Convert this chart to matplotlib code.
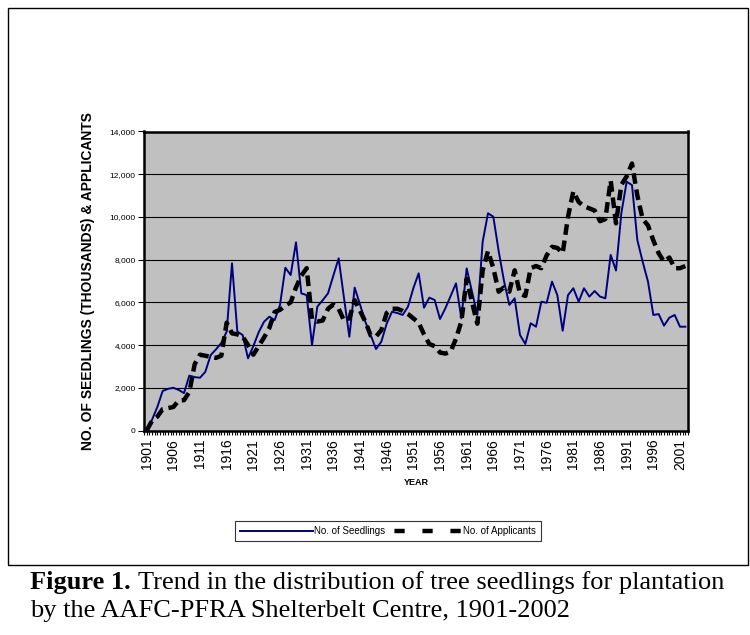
import numpy as np
import matplotlib
matplotlib.use('Agg')
from matplotlib import pyplot as plt
from matplotlib.patches import Rectangle
from matplotlib.lines import Line2D

years = list(range(1901, 2003))

seedlings = [
    0, 500, 1100, 1850, 1950, 2000, 1900, 1750, 2570, 2500,
    2470, 2750, 3530, 3800, 4100, 4630, 7830, 4630, 4470, 3380,
    3950, 4600, 5090, 5330, 5170, 5880, 7620, 7280, 8810, 6420,
    6340, 4000, 5800, 6100, 6420, 7250, 8060, 6200, 4390, 6690,
    5900, 5090, 4470, 3815, 4160, 5000, 5560, 5500, 5410, 5800,
    6660, 7360, 5750, 6220, 6110, 5220, 5720, 6300, 6890, 5250,
    7590, 6500, 5410, 8840, 10170, 10010, 8400, 7000, 5880, 6190,
    4470, 4050, 5020, 4860, 6030, 5980, 6970, 6340, 4670, 6340,
    6660, 6030, 6660, 6270, 6530, 6270, 6190, 8220, 7490, 10170,
    11650, 11490, 8920, 7900, 6970, 5410, 5450, 4910, 5280, 5410,
    4860, 4860,
]

applicants = [
    0, 450, 650, 1000, 1050, 1100, 1400, 1420, 1800, 3100,
    3550, 3500, 3450, 3400, 3500, 5050, 4550, 4500, 4400, 4000,
    3550, 3950, 4350, 4800, 5550, 5650, 5850, 6000, 6700, 7250,
    7600, 5200, 5100, 5150, 5700, 5900, 5700, 5150, 5250, 6100,
    5600, 5100, 4450, 4400, 4700, 5500, 5700, 5700, 5600, 5450,
    5250, 5050, 4500, 4050, 3950, 3650, 3600, 3700, 4300, 5100,
    7100, 6000, 5000, 7500, 8400, 7600, 6500, 6700, 6500, 7500,
    6400, 6300, 7600, 7700, 7600, 8200, 8600, 8550, 8300, 10000,
    11200, 10700, 10500, 10400, 10300, 9800, 9900, 11700, 9700, 11500,
    11900, 12500, 11000, 9900, 9600, 8900, 8300, 7900, 8100, 7600,
    7600, 7700,
]

year_ticks = list(range(1901, 2002, 5))
y_ticks = list(range(0, 14001, 2000))

NAVY = '#000080'
SILVER = '#C0C0C0'

fig = plt.figure(figsize=(7.5, 6.35), dpi=100)

# outer frame around chart
fig.patches.append(Rectangle((8 / 750, 1 - 565 / 635), 740 / 750, 557 / 635,
                             transform=fig.transFigure, fill=False,
                             edgecolor='black', linewidth=1.0))

ax = fig.add_axes([144 / 750, 1 - 430.5 / 635, 544 / 750, 299 / 635])
ax.set_facecolor(SILVER)

ax.plot(years, seedlings, color=NAVY, linewidth=1.4)
ax.plot(years, applicants, color='black', linewidth=3.2, dashes=(2.4, 1.3),
        dash_capstyle='butt')

ax.set_xlim(1900.5, 2002.5)
ax.set_ylim(0, 14000)
ax.set_yticks(y_ticks)
ax.set_yticklabels(['{:,}'.format(v) for v in y_ticks], fontsize=6,
                   family='Liberation Sans')
ax.set_xticks(year_ticks)
ax.set_xticklabels([str(y) for y in year_ticks], rotation=90, fontsize=10,
                   family='Liberation Sans')
ax.set_xticks(np.arange(1900.5, 2002.51, 0.5), minor=True)
ax.tick_params(axis='x', which='both', direction='out', length=3, width=0.8, pad=3)
ax.tick_params(axis='y', direction='out', length=4, width=0.8, pad=2)

ax.grid(axis='y', color='black', linewidth=0.8)
ax.set_axisbelow(True)
for s in ax.spines.values():
    s.set_linewidth(1.8)

ax.set_xlabel('YEAR', fontsize=6.5, fontweight='bold', family='Liberation Sans',
              labelpad=6)
ax.set_ylabel('NO. OF SEEDLINGS (THOUSANDS) & APPLICANTS', fontsize=10,
              fontweight='bold', family='Liberation Sans')
ax.yaxis.set_label_coords(-0.090, 0.5)

# legend handles: the dashed sample shows three separate blocks, as in the source
handles = [
    Line2D([], [], color=NAVY, linewidth=1.4),
    Line2D([], [], color='black', linewidth=3.2, linestyle=(5.3, (2.3, 4.0)),
           dash_capstyle='butt'),
]
leg = fig.legend(handles, ['No. of Seedlings', 'No. of Applicants'],
                 loc='center', bbox_to_anchor=(388 / 750, 1 - 531 / 635), ncol=2,
                 frameon=True, fancybox=False, edgecolor='black',
                 prop={'family': 'Liberation Sans', 'size': 7},
                 handlelength=7.5, handletextpad=0.1, columnspacing=0.5,
                 borderpad=0.5)
leg.get_frame().set_linewidth(0.8)

# caption: bold "Figure 1." followed by the plain text on the same line
CAP_SIZE = 19
t1 = fig.text(30 / 750, 1 - 583 / 635, 'Figure 1.', fontsize=CAP_SIZE,
              fontweight='bold', family='Liberation Serif', va='center', ha='left')
fig.canvas.draw()
x_end = t1.get_window_extent().x1 / fig.bbox.width
fig.text(x_end + 7 / 750, 1 - 583 / 635,
         'Trend in the distribution of tree seedlings for plantation',
         fontsize=CAP_SIZE, family='Liberation Serif', va='center', ha='left')
fig.text(30 / 750, 1 - 611 / 635,
         'by the AAFC-PFRA Shelterbelt Centre, 1901-2002',
         fontsize=CAP_SIZE, family='Liberation Serif', va='center', ha='left')

fig.savefig('out.png', dpi=100)
